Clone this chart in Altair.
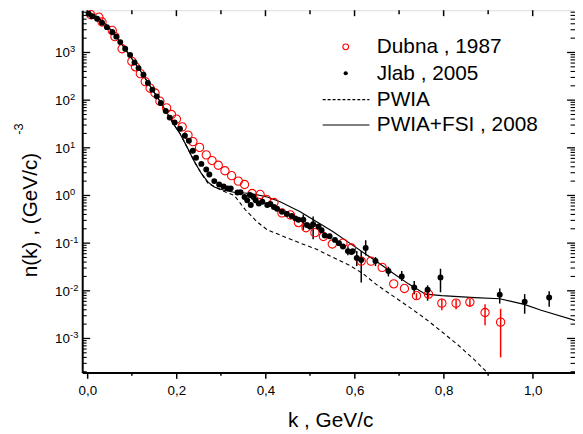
import altair as alt
import pandas as pd

# ---------------- data ----------------
jlab_k = [0.003, 0.011, 0.022, 0.033, 0.044, 0.056, 0.065, 0.074, 0.085, 0.096,
          0.106, 0.115, 0.126, 0.136, 0.146, 0.156, 0.165, 0.176, 0.185, 0.196,
          0.208, 0.219, 0.228, 0.237, 0.244, 0.256, 0.267, 0.274, 0.285, 0.296,
          0.306, 0.315, 0.322, 0.337, 0.344, 0.353, 0.359, 0.365, 0.367, 0.373,
          0.378, 0.385, 0.393, 0.404, 0.411, 0.419, 0.426, 0.437, 0.448, 0.459,
          0.467, 0.474, 0.485, 0.493, 0.500, 0.507, 0.519, 0.526, 0.533, 0.544,
          0.556, 0.565, 0.574, 0.585, 0.593, 0.596, 0.605, 0.615, 0.625, 0.647,
          0.676, 0.706, 0.734, 0.764, 0.793, 0.926, 0.982, 1.037]
jlab_n = [6500, 5750, 5100, 4200, 3400, 2700, 2150, 1650, 1200, 890,
          620, 470, 340, 230, 166, 120, 87, 59, 43, 34,
          25, 18, 14, 8.7, 6.2, 4.6, 3.5, 2.75, 2.0, 1.7,
          1.55, 1.41, 1.41, 1.15, 1.17, 0.93, 0.79, 1.02, 0.63, 0.93,
          0.79, 0.68, 0.74, 0.63, 0.66, 0.575, 0.525, 0.457, 0.407, 0.372,
          0.331, 0.309, 0.309, 0.24, 0.224, 0.25, 0.224, 0.186, 0.145, 0.14,
          0.117, 0.10, 0.085, 0.068, 0.065, 0.068, 0.049, 0.044, 0.079, 0.042,
          0.026, 0.020, 0.0117, 0.0105, 0.019, 0.0083, 0.0059, 0.0072]
jlab_err_k = [0.485, 0.507, 0.585, 0.605, 0.615, 0.625, 0.647, 0.676, 0.706,
              0.734, 0.764, 0.793, 0.926, 0.982, 1.037]
jlab_err_lo = [0.19, 0.12, 0.056, 0.033, 0.015, 0.055, 0.033, 0.020, 0.016,
               0.0085, 0.0062, 0.0093, 0.0054, 0.0033, 0.0046]
jlab_err_hi = [0.40, 0.36, 0.085, 0.068, 0.068, 0.115, 0.051, 0.032, 0.026,
               0.016, 0.013, 0.029, 0.0112, 0.0085, 0.0098]

dubna_k = [0.008, 0.026, 0.033, 0.056, 0.062, 0.078, 0.100, 0.108, 0.119, 0.130,
           0.141, 0.152, 0.163, 0.178, 0.189, 0.200, 0.213, 0.226, 0.237, 0.252,
           0.267, 0.280, 0.294, 0.309, 0.324, 0.339, 0.353, 0.370, 0.388, 0.402,
           0.419, 0.437, 0.456, 0.474, 0.491, 0.511, 0.530, 0.550, 0.574, 0.593,
           0.615, 0.637, 0.662, 0.688, 0.712, 0.739, 0.766, 0.796, 0.828, 0.859,
           0.893, 0.928]
dubna_n = [6200, 5500, 4350, 2900, 2150, 1200, 650, 500, 360, 245,
           178, 141, 95, 69, 50, 40, 27.5, 18.5, 13.5, 10.2,
           7.1, 5.4, 4.3, 3.3, 2.6, 2.0, 1.7, 1.10, 1.05, 0.83,
           0.71, 0.43, 0.39, 0.27, 0.21, 0.166, 0.138, 0.096, 0.10, 0.079,
           0.042, 0.042, 0.031, 0.014, 0.0112, 0.0079, 0.0085, 0.0055, 0.0055, 0.0058,
           0.0035, 0.0022]
dubna_err_k = [0.739, 0.766, 0.796, 0.828, 0.859, 0.893, 0.928]
dubna_err_lo = [0.0066, 0.0070, 0.0039, 0.0041, 0.0046, 0.0019, 0.0004]
dubna_err_hi = [0.0089, 0.0098, 0.0068, 0.0065, 0.0068, 0.0052, 0.0042]

fsi_k = [0.0, 0.02, 0.04, 0.06, 0.08, 0.10, 0.12, 0.14, 0.16, 0.18,
         0.193, 0.208, 0.226, 0.241, 0.256, 0.271, 0.285, 0.307, 0.329, 0.367,
         0.404, 0.433, 0.478, 0.515, 0.552, 0.589, 0.626, 0.648, 0.685, 0.722,
         0.759, 0.796, 0.870, 0.926, 0.981, 1.019, 1.095]
fsi_n = [7000, 5750, 4000, 2500, 1380, 740, 400, 204, 105, 52,
         32, 20, 9.5, 5.0, 2.9, 1.9, 1.5, 1.29, 1.17, 1.10,
         0.93, 0.74, 0.457, 0.28, 0.174, 0.10, 0.058, 0.042, 0.024, 0.0138,
         0.0085, 0.0079, 0.0072, 0.0068, 0.0052, 0.0039, 0.0024]

pwia_k = [0.0, 0.02, 0.04, 0.06, 0.08, 0.10, 0.12, 0.14, 0.16, 0.18,
          0.193, 0.208, 0.226, 0.241, 0.256, 0.271, 0.300, 0.330, 0.355, 0.381,
          0.404, 0.441, 0.478, 0.515, 0.552, 0.589, 0.619, 0.648, 0.685, 0.722,
          0.759, 0.796, 0.833, 0.870, 0.896, 0.920]
pwia_n = [7000, 5750, 4000, 2500, 1380, 740, 400, 204, 105, 52,
          32, 20, 9.5, 5.0, 2.9, 1.8, 1.3, 1.0, 0.50, 0.28,
          0.19, 0.138, 0.10, 0.074, 0.050, 0.034, 0.023, 0.0138, 0.0079, 0.0046,
          0.0026, 0.00138, 0.00072, 0.00035, 0.0002, 0.00011]

x_major = [0.0, 0.2, 0.4, 0.6, 0.8, 1.0]
x_minor = [0.1, 0.3, 0.5, 0.7, 0.9]
y_decades = [1e-3, 1e-2, 1e-1, 1e0, 1e1, 1e2, 1e3]
y_exp_text = ["-3", "-2", "-1", "0", "1", "2", "3"]
Y_LO, Y_HI = 1.94e-4, 7.7e3
y_minor = [m * 10.0 ** e for e in range(-4, 4) for m in range(2, 10)
           if Y_LO <= m * 10.0 ** e <= Y_HI]

legend_text = ["Dubna , 1987", "Jlab , 2005", "PWIA", "PWIA+FSI , 2008"]

# ---------------- layout ----------------
W, H = 498, 366
FONT = "Liberation Sans"

xs = alt.Scale(domain=[-0.0115, 1.095], nice=False, zero=False)
ys = alt.Scale(type="log", domain=[Y_LO, Y_HI], nice=False)

xax = alt.Axis(values=x_major, labelExpr="replace(format(datum.value, '.1f'), '.', ',')",
               tickSize=6, tickWidth=1.5, tickColor="black", labelFont=FONT,
               labelFontSize=13.5, labelColor="black", labelPadding=5, title=None,
               domainColor="black", domainWidth=2, grid=False, labelFlush=False)
yax = alt.Axis(labels=False, ticks=False, title=None, domainColor="black",
               domainWidth=2, grid=False)

X = lambda f: alt.X(f, type="quantitative", scale=xs, axis=xax)
Y = lambda f: alt.Y(f, type="quantitative", scale=ys, axis=yax)

jlab = pd.DataFrame({"k": jlab_k, "n": jlab_n})
dubna = pd.DataFrame({"k": dubna_k, "n": dubna_n})
jerr = pd.DataFrame({"k": jlab_err_k, "lo": jlab_err_lo, "hi": jlab_err_hi})
derr = pd.DataFrame({"k": dubna_err_k, "lo": dubna_err_lo, "hi": dubna_err_hi})
fsi = pd.DataFrame({"k": fsi_k, "n": fsi_n})
pwia = pd.DataFrame({"k": pwia_k, "n": pwia_n})

fsi_line = alt.Chart(fsi).mark_line(color="black", strokeWidth=1.2, clip=True).encode(
    x=X("k"), y=Y("n"))
pwia_line = alt.Chart(pwia).mark_line(color="black", strokeWidth=1.1, strokeDash=[4, 3],
                                      clip=True).encode(x=X("k"), y=Y("n"))
jerr_bars = alt.Chart(jerr).mark_rule(color="black", strokeWidth=1.5).encode(
    x=X("k"), y=Y("lo"), y2="hi")
derr_bars = alt.Chart(derr).mark_rule(color="#ff0000", strokeWidth=1.5).encode(
    x=X("k"), y=Y("lo"), y2="hi")
dubna_pts = alt.Chart(dubna).mark_point(shape="circle", filled=False, color="#ff0000",
                                        size=70, strokeWidth=1.1, opacity=1).encode(
    x=X("k"), y=Y("n"))
jlab_pts = alt.Chart(jlab).mark_circle(color="black", size=36, opacity=1).encode(
    x=X("k"), y=Y("n"))

xmin_df = pd.DataFrame({"k": x_minor})
xmaj_df = pd.DataFrame({"k": x_major})
bot_minor = alt.Chart(xmin_df).mark_rule(color="black", strokeWidth=1.5).encode(
    x=X("k"), y=alt.value(H), y2=alt.value(H + 3.5))
top_minor = alt.Chart(xmin_df).mark_rule(color="black", strokeWidth=1.5).encode(
    x=X("k"), y=alt.value(0), y2=alt.value(4))
top_major = alt.Chart(xmaj_df).mark_rule(color="black", strokeWidth=1.5).encode(
    x=X("k"), y=alt.value(0), y2=alt.value(6))

ydec_df = pd.DataFrame({"n": y_decades, "e": y_exp_text, "b": ["10"] * len(y_decades)})
ymin_df = pd.DataFrame({"n": y_minor})
left_major = alt.Chart(ydec_df).mark_rule(color="black", strokeWidth=1.3).encode(
    y=Y("n"), x=alt.value(0), x2=alt.value(8))
left_minor = alt.Chart(ymin_df).mark_rule(color="black", strokeWidth=1.1).encode(
    y=Y("n"), x=alt.value(0), x2=alt.value(4.5))
right_major = alt.Chart(ydec_df).mark_rule(color="black", strokeWidth=1.3).encode(
    y=Y("n"), x=alt.value(W), x2=alt.value(W - 8))
right_minor = alt.Chart(ymin_df).mark_rule(color="black", strokeWidth=1.1).encode(
    y=Y("n"), x=alt.value(W), x2=alt.value(W - 4.5))

ylab_base = alt.Chart(ydec_df).mark_text(font=FONT, fontSize=13.5, align="right",
                                         baseline="middle", dy=1, color="black").encode(
    y=Y("n"), x=alt.value(-12.5), text="b:N")
ylab_exp = alt.Chart(ydec_df).mark_text(font=FONT, fontSize=9.5, align="left",
                                        baseline="middle", dy=-3, color="black").encode(
    y=Y("n"), x=alt.value(-12.3), text="e:N")

one = pd.DataFrame({"a": [0]})
x_title = alt.Chart(one).mark_text(font=FONT, fontSize=21, align="center",
                                   baseline="alphabetic", color="black").encode(
    x=alt.value(251), y=alt.value(421.5), text=alt.value("k , GeV/c"))
y_title = alt.Chart(one).mark_text(font=FONT, fontSize=21, align="center",
                                   baseline="middle", angle=270, color="black").encode(
    x=alt.value(-52), y=alt.value(207), text=alt.value("n(k)  ,  (GeV/c)"))
y_title_sup = alt.Chart(one).mark_text(font=FONT, fontSize=13, align="center",
                                       baseline="middle", angle=270, color="black").encode(
    x=alt.value(-64), y=alt.value(120), text=alt.value("-3"))

LX_SYM, LX_TXT = 266.3, 297.7
LY = [37, 63.7, 90.3, 116]
leg_texts = [alt.Chart(one).mark_text(font=FONT, fontSize=21, align="left",
                                      baseline="middle", color="black").encode(
    x=alt.value(LX_TXT), y=alt.value(LY[i] + 0.5), text=alt.value(legend_text[i]))
    for i in range(4)]
leg_red = alt.Chart(one).mark_point(shape="circle", filled=False, color="#ff0000",
                                    size=34, strokeWidth=1.1, opacity=1).encode(
    x=alt.value(LX_SYM), y=alt.value(LY[0]))
leg_black = alt.Chart(one).mark_circle(color="black", size=18, opacity=1).encode(
    x=alt.value(LX_SYM), y=alt.value(LY[1]))
leg_dash = alt.Chart(one).mark_rule(color="black", strokeWidth=1.1, strokeDash=[3, 2]).encode(
    x=alt.value(243), x2=alt.value(290.3), y=alt.value(LY[2]))
leg_solid = alt.Chart(one).mark_rule(color="black", strokeWidth=1.2).encode(
    x=alt.value(243), x2=alt.value(290.3), y=alt.value(LY[3]))

chart = alt.layer(
    fsi_line, pwia_line, jerr_bars, derr_bars, dubna_pts, jlab_pts,
    bot_minor, top_minor, top_major, left_major, left_minor, right_major, right_minor,
    ylab_base, ylab_exp, x_title, y_title, y_title_sup,
    *leg_texts, leg_red, leg_black, leg_dash, leg_solid,
).properties(
    width=W, height=H,
    autosize=alt.AutoSizeParams(type="none"),
    padding={"left": 75, "top": 0, "right": 0, "bottom": 60},
).configure_view(
    stroke="black", strokeWidth=1.3
).configure(background="white")

chart.save("out.html", embed_options={"renderer": "svg", "actions": False})
